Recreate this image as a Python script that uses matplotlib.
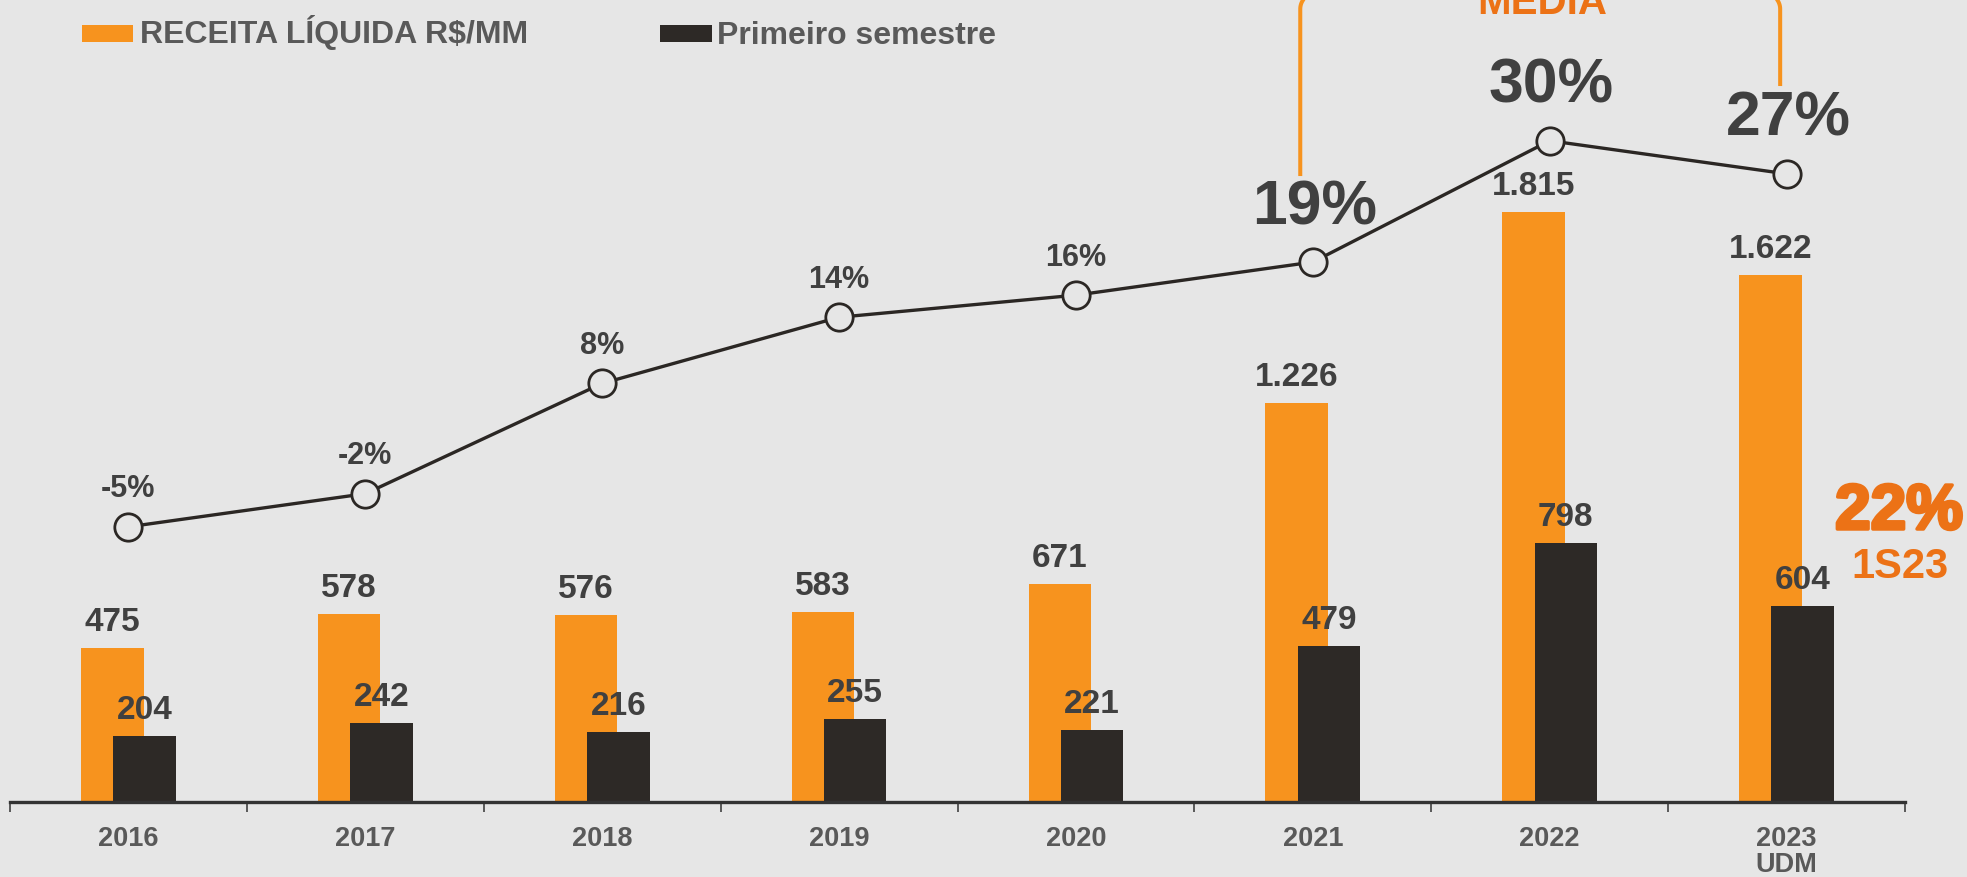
import matplotlib
matplotlib.use('Agg')
import matplotlib.pyplot as plt
from matplotlib.patches import Rectangle
import matplotlib.patheffects as pe
import numpy as np

# ---------------- data ----------------
years = ['2016', '2017', '2018', '2019', '2020', '2021', '2022', '2023\nUDM']
receita = [475, 578, 576, 583, 671, 1226, 1815, 1622]
semestre = [204, 242, 216, 255, 221, 479, 798, 604]
margem = [-5, -2, 8, 14, 16, 19, 30, 27]
legend_labels = ['RECEITA LÍQUIDA R$/MM', 'Primeiro semestre']
bracket_label = 'MÉDIA'
highlight_value = '22%'
highlight_sub = '1S23'

# ---------------- style ----------------
BG = '#e6e6e6'
ORANGE = '#f7931e'
DARK = '#2d2926'
TXT = '#404040'
TICKTXT = '#595959'
ORANGE_TXT = '#ec7216'
FONT = ['Liberation Sans', 'DejaVu Sans']
plt.rcParams['font.family'] = FONT

W, H = 1967, 878
fig = plt.figure(figsize=(W / 100, H / 100), dpi=100, facecolor=BG)
ax = fig.add_axes([10 / W, 75 / H, 1895 / W, 803 / H])
ax.set_facecolor(BG)

x = np.arange(len(years))
bw = 0.264
off = 0.068

ax.bar(x - off, receita, width=bw, color=ORANGE, zorder=2)
ax.bar(x + off, semestre, width=bw, color=DARK, zorder=3)

ax.set_xlim(-0.5, len(years) - 0.5)
ax.set_ylim(0, 2470)

def fmt(v):
    return f"{v:,}".replace(',', '.')

for xi, v in zip(x, receita):
    ax.annotate(fmt(v), (xi - off, v), xytext=(0, 13), textcoords='offset points',
                ha='center', va='baseline', fontsize=24, fontweight='bold', color=TXT, zorder=5)
for xi, v in zip(x, semestre):
    ax.annotate(fmt(v), (xi + off, v), xytext=(0, 13), textcoords='offset points',
                ha='center', va='baseline', fontsize=24, fontweight='bold', color=TXT, zorder=5)

# axes styling
for s in ['top', 'right', 'left']:
    ax.spines[s].set_visible(False)
ax.spines['bottom'].set_color('#333333')
ax.spines['bottom'].set_linewidth(2.4)
ax.spines['bottom'].set_zorder(6)
ax.set_yticks([])
ax.set_xticks(np.arange(-0.5, len(years) + 0.5, 1.0))
ax.set_xticklabels([])
ax.tick_params(axis='x', which='major', direction='out', length=7, width=1.1, color='#333333')
ax.set_xticks(x, minor=True)
ax.set_xticklabels(years, minor=True, fontsize=19.5, fontweight='bold', color=TICKTXT,
                   linespacing=1.0)
ax.tick_params(axis='x', which='minor', length=0, pad=16.5)

# line on twin axis
ax2 = ax.twinx()
ax2.set_ylim(-29.95, 42.85)
ax2.set_xlim(-0.5, len(years) - 0.5)
ax2.axis('off')
ax2.plot(x, margem, color='#2b2724', lw=2.4, marker='o', markersize=19.7,
         markerfacecolor=BG, markeredgecolor='#2b2724', markeredgewidth=2.0, zorder=4)

big = {5, 6, 7}
for i, (xi, v) in enumerate(zip(x, margem)):
    if i in big:
        ax2.annotate(f"{v}%", (xi, v), xytext=(1, 28), textcoords='offset points',
                     ha='center', va='baseline', fontsize=45, fontweight='bold', color=TXT)
    else:
        ax2.annotate(f"{v}%", (xi, v), xytext=(0, 22), textcoords='offset points',
                     ha='center', va='baseline', fontsize=22, fontweight='bold', color=TXT)

# bracket "MÉDIA" (annotation with rounded top corners)
xl, xr = 5 - 0.053, 7 - 0.027
yl_bot, yr_bot, ytop = 26.8, 34.96, 43.39
rx = 16 * 8 / 1895
ry = 16 * (42.85 + 29.95) / 803
t = np.linspace(0, np.pi / 2, 20)
left_arc_x = xl + rx - rx * np.cos(t)
left_arc_y = ytop - ry + ry * np.sin(t)
right_arc_x = xr - rx + rx * np.sin(t)
right_arc_y = ytop - ry + ry * np.cos(t)
bx = np.concatenate([[xl], left_arc_x, right_arc_x, [xr]])
by = np.concatenate([[yl_bot], left_arc_y, right_arc_y, [yr_bot]])
ax2.plot(bx, by, color=ORANGE, lw=2.9, clip_on=False, solid_capstyle='butt', zorder=3)
ax2.text(5.967, 41.6, bracket_label, ha='center', va='baseline', fontsize=29,
         fontweight='bold', color=ORANGE_TXT, clip_on=False)

# highlight 22% 1S23
fig.text(1899 / W, (H - 530) / H, highlight_value, ha='center', va='baseline',
         fontsize=46, fontweight='bold', color=ORANGE_TXT,
         path_effects=[pe.withStroke(linewidth=2.5, foreground=ORANGE_TXT)])
fig.text(1900 / W, (H - 577.7) / H, highlight_sub, ha='center', va='baseline',
         fontsize=30, fontweight='bold', color=ORANGE_TXT)

# legend (manual)
for (px0, px1, tx), col, lab in zip([(82.3, 133.3, 139.7), (659.5, 711.8, 717)],
                                     [ORANGE, DARK], legend_labels):
    fig.add_artist(Rectangle((px0 / W, (H - 42.5) / H), (px1 - px0) / W, 16.7 / H,
                             transform=fig.transFigure, facecolor=col, edgecolor='none'))
    fig.text(tx / W, (H - 43.5) / H, lab, ha='left', va='baseline', fontsize=23,
             fontweight='bold', color=TICKTXT)

fig.savefig('out.png', dpi=100, facecolor=BG)
